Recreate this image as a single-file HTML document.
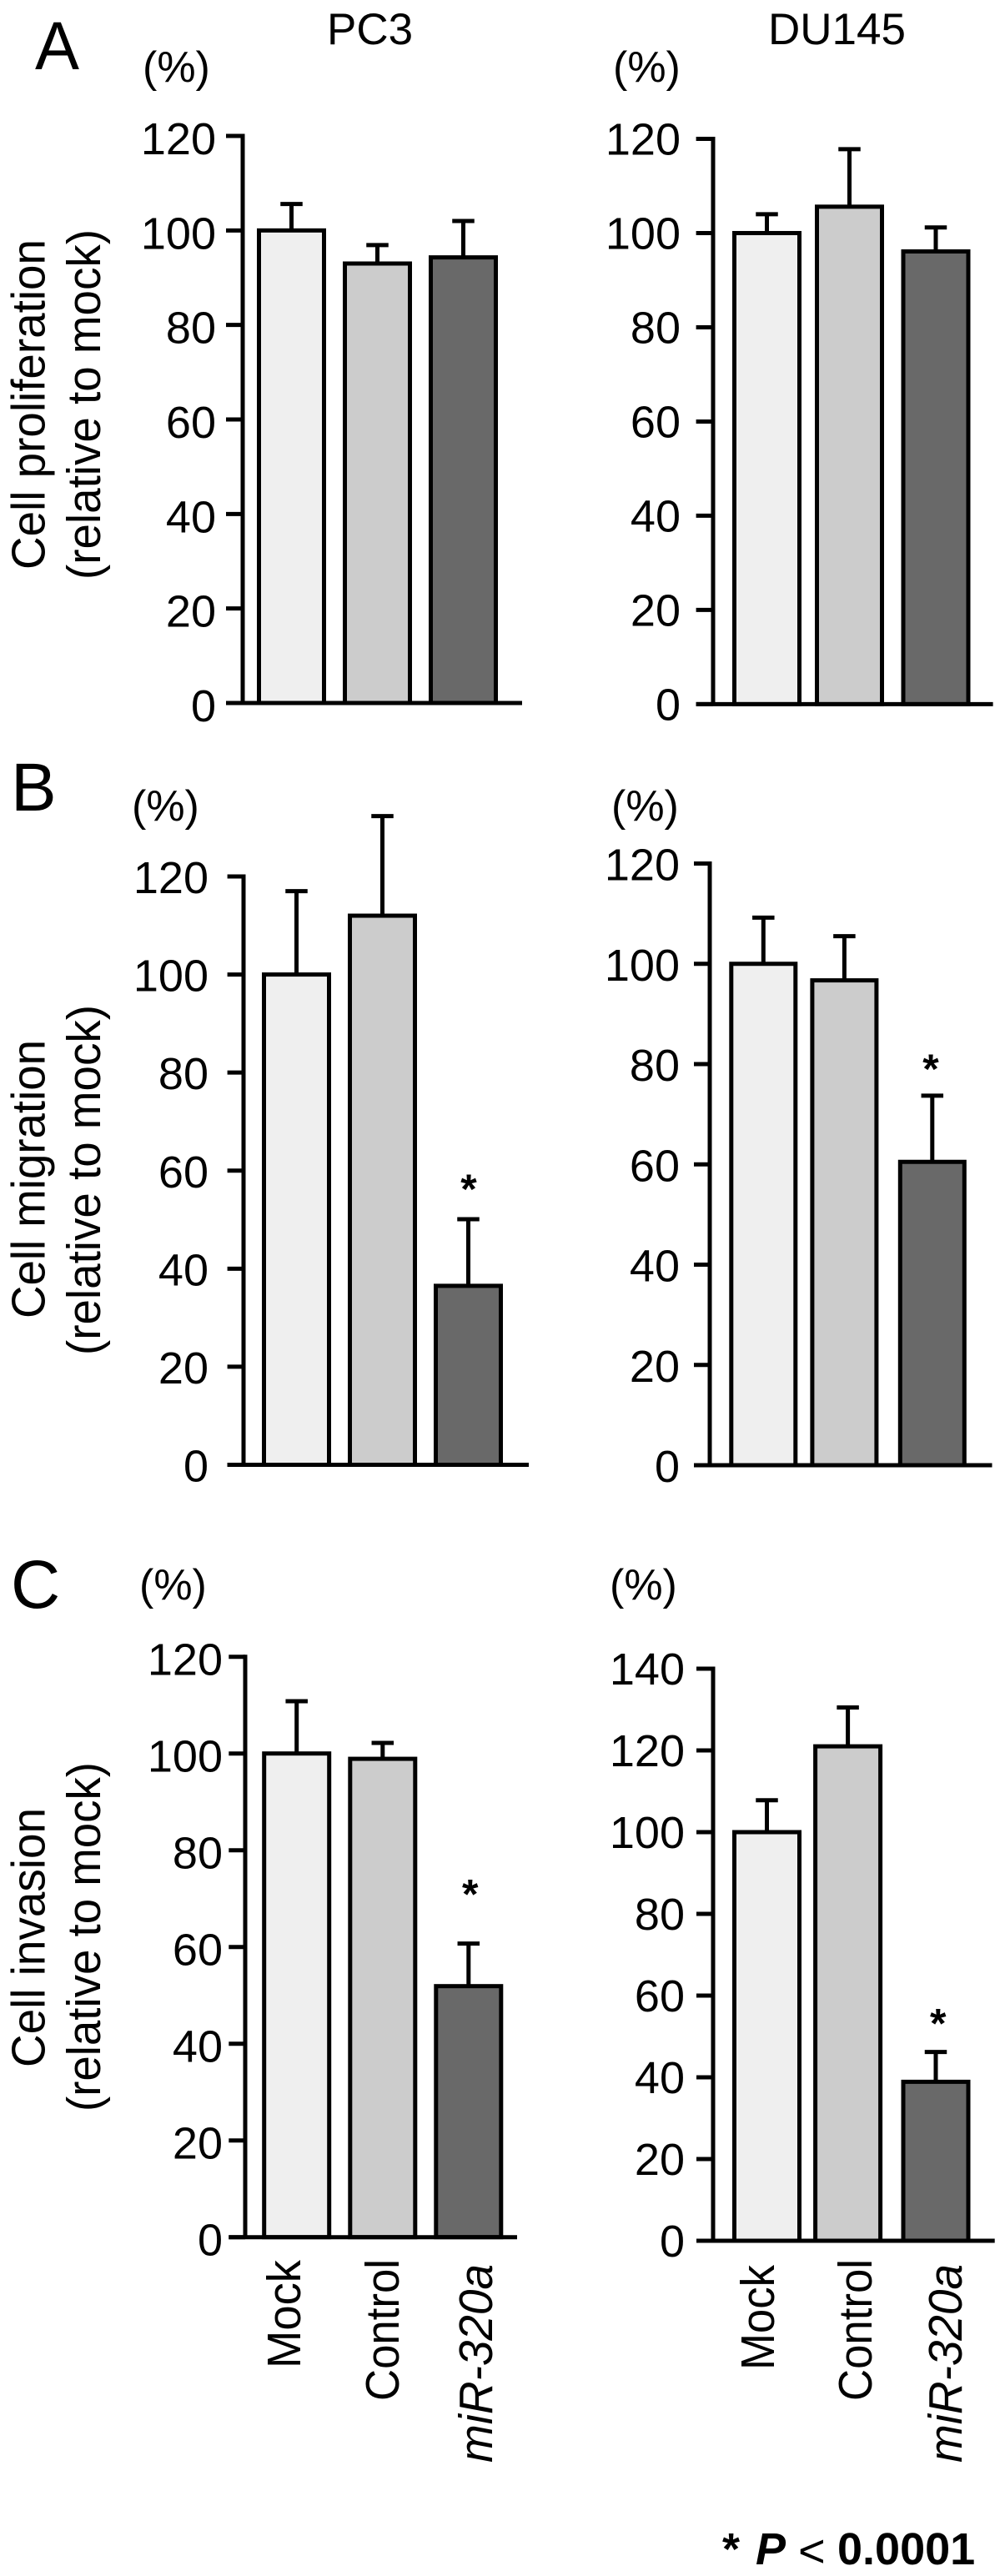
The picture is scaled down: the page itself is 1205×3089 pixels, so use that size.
<!DOCTYPE html>
<html lang="en">
<head>
<meta charset="utf-8">
<title>Cell proliferation, migration and invasion by miR-320a</title>
<style>
  html, body { margin: 0; padding: 0; background: #fff; }
  svg { display: block; }
  text { font-family: "Liberation Sans", Arial, sans-serif; fill: #000; }
  .title { font-size: 57px; }
  .head { font-size: 53px; }
  .letter { font-size: 82px; }
  .pct { font-size: 52px; }
  .cat { font-size: 57px; }
  .tick { font-size: 54px; text-anchor: end; }
  .star { font-size: 50px; font-weight: bold; text-anchor: middle; }
</style>
</head>
<body>
<svg id="figure" xmlns="http://www.w3.org/2000/svg" width="1205" height="3089" viewBox="0 0 1205 3089">
  <rect x="0" y="0" width="1205" height="3089" fill="#ffffff"/>

  <text class="letter" x="42" y="83" textLength="53" lengthAdjust="spacingAndGlyphs">A</text>
  <text class="letter" x="13" y="972">B</text>
  <text class="letter" x="13" y="1928">C</text>

  <text class="head" x="392" y="53">PC3</text>
  <text class="head" x="921" y="53">DU145</text>

  <text class="pct" x="171" y="98">(%)</text>
  <text class="pct" x="735" y="98">(%)</text>
  <text class="pct" x="158" y="984">(%)</text>
  <text class="pct" x="733" y="984">(%)</text>
  <text class="pct" x="167" y="1918">(%)</text>
  <text class="pct" x="731" y="1918">(%)</text>

  <text class="title" transform="translate(53.5,683) rotate(-90)" textLength="396" lengthAdjust="spacingAndGlyphs">Cell proliferation</text>
  <text class="title" transform="translate(120,695) rotate(-90)" textLength="420" lengthAdjust="spacingAndGlyphs">(relative to mock)</text>
  <text class="title" transform="translate(53.5,1581) rotate(-90)" textLength="334" lengthAdjust="spacingAndGlyphs">Cell migration</text>
  <text class="title" transform="translate(120,1625) rotate(-90)" textLength="420" lengthAdjust="spacingAndGlyphs">(relative to mock)</text>
  <text class="title" transform="translate(53.5,2479) rotate(-90)" textLength="311" lengthAdjust="spacingAndGlyphs">Cell invasion</text>
  <text class="title" transform="translate(120,2532) rotate(-90)" textLength="419" lengthAdjust="spacingAndGlyphs">(relative to mock)</text>

  <text class="cat" transform="translate(360,2840) rotate(-90)" textLength="130" lengthAdjust="spacingAndGlyphs">Mock</text>
  <text class="cat" transform="translate(478,2879) rotate(-90)" textLength="170" lengthAdjust="spacingAndGlyphs">Control</text>
  <text class="cat" font-style="italic" transform="translate(590,2953) rotate(-90)" textLength="238" lengthAdjust="spacingAndGlyphs">miR-320a</text>
  <text class="cat" transform="translate(928,2842) rotate(-90)" textLength="126" lengthAdjust="spacingAndGlyphs">Mock</text>
  <text class="cat" transform="translate(1045,2879) rotate(-90)" textLength="170" lengthAdjust="spacingAndGlyphs">Control</text>
  <text class="cat" font-style="italic" transform="translate(1153,2953) rotate(-90)" textLength="238" lengthAdjust="spacingAndGlyphs">miR-320a</text>

  <text y="3075" font-size="54"><tspan x="866" font-weight="bold">*</tspan><tspan x="906" font-weight="bold" font-style="italic">P</tspan><tspan x="957" y="3078" font-size="56">&lt;</tspan><tspan x="1004" y="3075" font-weight="bold">0.0001</tspan></text>

  <g id="panels"></g>
</svg>

<script>
// Chart data
const categories = ['Mock', 'Control', 'miR-320a'];
const barFills = ['#efefef', '#cccccc', '#696969'];

const ticks120 = [0, 20, 40, 60, 80, 100, 120];
const ticks140 = [0, 20, 40, 60, 80, 100, 120, 140];

const proliferationPc3Values = [100, 93, 94.3];
const proliferationPc3Errors = [5.6, 3.9, 7.7];
const proliferationDu145Values = [100, 105.6, 96.1];
const proliferationDu145Errors = [4, 12.2, 5.1];

const migrationPc3Values = [100, 112, 36.5];
const migrationPc3Errors = [17, 20.3, 13.6];
const migrationDu145Values = [100, 96.7, 60.5];
const migrationDu145Errors = [9.2, 8.8, 13.2];

const invasionPc3Values = [100, 98.9, 51.9];
const invasionPc3Errors = [10.8, 3.3, 8.8];
const invasionDu145Values = [100, 121, 38.9];
const invasionDu145Errors = [7.8, 9.5, 7.3];

const panels = [
  { name: 'proliferation-pc3', values: proliferationPc3Values, errors: proliferationPc3Errors, ticks: ticks120,
    axisX: 291, tickLeft: 271, right: 626, yTop: 163, yZero: 843, max: 120, labelRight: 259, labelDy: 3,
    c0: 349.5, c1: 452.5, c2: 555.5, barWidth: 83 },
  { name: 'proliferation-du145', values: proliferationDu145Values, errors: proliferationDu145Errors, ticks: ticks120,
    axisX: 855, tickLeft: 834.6, right: 1190.6, yTop: 166.5, yZero: 844.4, max: 120, labelRight: 816, labelDy: 0,
    c0: 919.5, c1: 1018.5, c2: 1122, barWidth: 83 },
  { name: 'migration-pc3', values: migrationPc3Values, errors: migrationPc3Errors, ticks: ticks120,
    axisX: 292, tickLeft: 272.6, right: 634, yTop: 1051, yZero: 1756.5, max: 120, labelRight: 250, labelDy: 1,
    c0: 355.5, c1: 458.5, c2: 561.5, barWidth: 83, starIndex: 2, starX: 562, starGap: 50 },
  { name: 'migration-du145', values: migrationDu145Values, errors: migrationDu145Errors, ticks: ticks120,
    axisX: 851, tickLeft: 832, right: 1189.5, yTop: 1035.5, yZero: 1757, max: 120, labelRight: 815, labelDy: 1,
    c0: 915.3, c1: 1012.4, c2: 1117.8, barWidth: 82, starIndex: 2, starX: 1116, starGap: 46 },
  { name: 'invasion-pc3', values: invasionPc3Values, errors: invasionPc3Errors, ticks: ticks120,
    axisX: 294, tickLeft: 274.3, right: 620, yTop: 1986.7, yZero: 2682.7, max: 120, labelRight: 267, labelDy: 3,
    c0: 355.7, c1: 458.8, c2: 561.8, barWidth: 83, starIndex: 2, starX: 563.7, starGap: 73 },
  { name: 'invasion-du145', values: invasionDu145Values, errors: invasionDu145Errors, ticks: ticks140,
    axisX: 855, tickLeft: 835, right: 1192.7, yTop: 2001, yZero: 2687, max: 140, labelRight: 821, labelDy: 0,
    c0: 919.5, c1: 1016.6, c2: 1122, barWidth: 83, starIndex: 2, starX: 1124.7, starGap: 48 }
];

const SVG_NS = 'http://www.w3.org/2000/svg';
const root = document.getElementById('panels');
const LINE = 5;

function make(tag, attrs, parent) {
  const node = document.createElementNS(SVG_NS, tag);
  for (const k in attrs) node.setAttribute(k, attrs[k]);
  parent.appendChild(node);
  return node;
}

function drawPanel(p) {
  const yScale = v => p.yZero - (v / p.max) * (p.yZero - p.yTop);
  const xScale = i => [p.c0, p.c1, p.c2][i];

  const g = make('g', {}, root);
  
  

  // Bars and error bars
  p.values.forEach((value, i) => {
    const cx = xScale(i);
    const top = yScale(value);
    const errTop = yScale(value + p.errors[i]);

    const stem = make('line', { x1: cx, x2: cx, y1: top, y2: errTop, stroke: '#000', 'stroke-width': LINE }, g);
    
    

    const cap = make('line', { x1: cx - 13.25, x2: cx + 13.25, y1: errTop, y2: errTop, stroke: '#000', 'stroke-width': LINE }, g);
    
    

    const bar = make('rect', {
      x: cx - p.barWidth / 2 + LINE / 2, y: top,
      width: p.barWidth - LINE, height: Math.max(0, p.yZero - top),
      fill: barFills[i], stroke: '#000', 'stroke-width': LINE
    }, g);
    
    

    if (p.starIndex === i) {
      const star = make('text', { class: 'star', x: p.starX, y: errTop - p.starGap + 31 }, g);
      star.textContent = '*';
      
      
    }
  });

  // Y axis line
  const axis = make('line', { x1: p.axisX, x2: p.axisX, y1: p.yTop - LINE / 2, y2: p.yZero, stroke: '#000', 'stroke-width': LINE }, g);
  
  

  // Baseline
  const base = make('line', { x1: p.tickLeft, x2: p.right, y1: p.yZero, y2: p.yZero, stroke: '#000', 'stroke-width': LINE }, g);
  
  

  // Ticks and labels
  p.ticks.forEach(t => {
    const y = yScale(t);
    const tick = make('line', { x1: p.tickLeft, x2: p.axisX, y1: y, y2: y, stroke: '#000', 'stroke-width': LINE }, g);
    
    

    const label = make('text', { class: 'tick', x: p.labelRight, y: y + 19 + p.labelDy }, g);
    label.textContent = String(t);
    
    
  });
}

panels.forEach(drawPanel);
</script>
</body>
</html>
